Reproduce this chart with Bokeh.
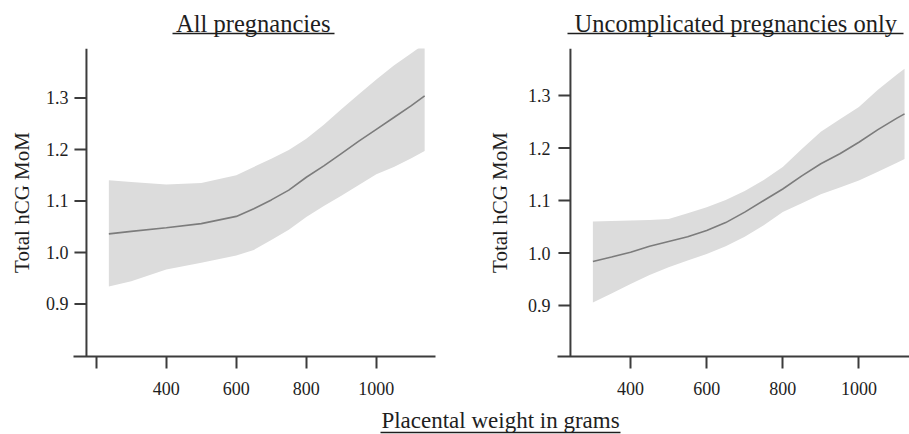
from bokeh.plotting import figure
from bokeh.models import Range1d, LinearAxis, FixedTicker, ColumnDataSource
from bokeh.layouts import column, row
from bokeh.embed import file_html
from bokeh.resources import INLINE
from bokeh.core.properties import value

FONT = "Liberation Serif"
TEXT = "#1e1e1e"
AXIS = "#3c3c3c"
BAND = "#dcdcdc"
LINE = "#7c7c7c"

# ---------------- data ----------------
titles = ["All pregnancies", "Uncomplicated pregnancies only"]
x_label = "Placental weight in grams"
y_label = "Total hCG MoM"

x_ticks_all = [200, 400, 600, 800, 1000]
x_tick_labels_all = ["", "400", "600", "800", "1000"]
x_ticks_unc = [400, 600, 800, 1000]
x_tick_labels_unc = ["400", "600", "800", "1000"]
y_ticks = [0.9, 1.0, 1.1, 1.2, 1.3]
y_tick_labels = ["0.9", "1.0", "1.1", "1.2", "1.3"]

# All pregnancies
weight_all = [236, 300, 400, 500, 600, 650, 700, 750, 800, 850, 900, 950, 1000, 1050, 1100, 1138]
fit_all = [1.036, 1.041, 1.048, 1.056, 1.070, 1.085, 1.102, 1.121, 1.146, 1.168, 1.192, 1.216, 1.239, 1.262, 1.285, 1.304]
upper_all = [1.140, 1.137, 1.132, 1.135, 1.150, 1.166, 1.182, 1.199, 1.221, 1.248, 1.278, 1.307, 1.336, 1.363, 1.387, 1.405]
lower_all = [0.934, 0.944, 0.967, 0.980, 0.994, 1.005, 1.024, 1.044, 1.069, 1.090, 1.110, 1.131, 1.152, 1.166, 1.183, 1.197]

# Uncomplicated pregnancies only
weight_unc = [301, 350, 400, 450, 500, 550, 600, 650, 700, 750, 800, 850, 900, 950, 1000, 1050, 1100, 1120]
fit_unc = [0.984, 0.9925, 1.0016, 1.013, 1.022, 1.031, 1.043, 1.058, 1.078, 1.100, 1.122, 1.147, 1.170, 1.189, 1.211, 1.235, 1.257, 1.265]
upper_unc = [1.060, 1.061, 1.062, 1.063, 1.065, 1.076, 1.087, 1.101, 1.118, 1.139, 1.164, 1.198, 1.231, 1.255, 1.278, 1.311, 1.340, 1.351]
lower_unc = [0.906, 0.923, 0.941, 0.958, 0.973, 0.986, 0.998, 1.013, 1.031, 1.053, 1.078, 1.095, 1.112, 1.125, 1.138, 1.155, 1.172, 1.179]

TICK_PX = 12


def style_axis(ax):
    ax.axis_line_color = AXIS
    ax.axis_line_width = 2
    ax.major_tick_line_color = AXIS
    ax.major_tick_line_width = 2
    ax.major_tick_out = TICK_PX
    ax.major_tick_in = 0
    ax.minor_tick_line_color = None
    ax.major_label_text_font = FONT
    ax.major_label_text_font_size = "18px"
    ax.major_label_text_color = TEXT
    ax.axis_label_text_font = FONT
    ax.axis_label_text_font_style = "normal"
    ax.axis_label_text_font_size = "21px"
    ax.axis_label_text_color = TEXT


def make_panel(x, fit, lo, hi, xticks, xlabels, xr, yr, y_axis_at, width, borders,
               ylab_standoff, ytick_standoff):
    p = figure(width=width, height=360, x_range=Range1d(*xr), y_range=Range1d(*yr),
               output_backend="svg", toolbar_location=None,
               x_axis_location=None, y_axis_location=None,
               min_border_left=borders[0], min_border_right=borders[1],
               min_border_top=borders[2], min_border_bottom=borders[3])
    p.grid.visible = False
    p.outline_line_color = None
    p.background_fill_color = "white"
    p.border_fill_color = "white"
    src = ColumnDataSource(dict(x=x, fit=fit, lo=lo, hi=hi))
    p.varea(x="x", y1="lo", y2="hi", source=src, fill_color=BAND, fill_alpha=1.0)
    p.line(x="x", y="fit", source=src, line_color=LINE, line_width=1.6)

    # x axis along the bottom of the frame
    xa = LinearAxis(ticker=FixedTicker(ticks=xticks),
                    major_label_overrides={t: l for t, l in zip(xticks, xlabels)})
    style_axis(xa)
    xa.major_label_standoff = 13
    p.add_layout(xa, "below")

    # y axis: labels from a real axis at the frame edge, rule + ticks drawn at y_axis_at
    ya = LinearAxis(ticker=FixedTicker(ticks=y_ticks),
                    major_label_overrides={t: l for t, l in zip(y_ticks, y_tick_labels)},
                    axis_label=y_label)
    style_axis(ya)
    ya.axis_line_color = None
    ya.major_tick_line_color = None
    ya.major_tick_out = 0
    ya.major_label_standoff = ytick_standoff
    ya.axis_label_standoff = ylab_standoff
    p.add_layout(ya, "left")

    frame_w = width - borders[0] - borders[1]
    tick_len = TICK_PX * (xr[1] - xr[0]) / frame_w
    p.segment(x0=[y_axis_at], y0=[yr[0]], x1=[y_axis_at], y1=[yr[1]],
              line_color=AXIS, line_width=2)
    p.segment(x0=[y_axis_at - tick_len] * len(y_ticks), y0=y_ticks,
              x1=[y_axis_at] * len(y_ticks), y1=y_ticks,
              line_color=AXIS, line_width=2)
    return p


p1 = make_panel(weight_all, fit_all, lower_all, upper_all, x_ticks_all, x_tick_labels_all,
                (135, 1169), (0.798, 1.396), 172, 450, (73, 15, 6, 42), 9, 5)
p2 = make_panel(weight_unc, fit_unc, lower_unc, upper_unc, x_ticks_unc, x_tick_labels_unc,
                (208, 1133), (0.803, 1.3895), 242, 459, (107, 0, 8, 44), 13, 7)


def text_strip(height, xs, ys, texts, size, ul_x0, ul_x1, ul_y):
    f = figure(width=909, height=height, x_range=Range1d(0, 909), y_range=Range1d(height, 0),
               output_backend="svg", toolbar_location=None,
               x_axis_location=None, y_axis_location=None,
               min_border_left=0, min_border_right=0, min_border_top=0, min_border_bottom=0)
    f.grid.visible = False
    f.outline_line_color = None
    f.text(x=xs, y=ys, text=texts, text_font=value(FONT), text_font_size=size,
           text_align="center", text_baseline="top", text_color=TEXT)
    f.segment(x0=ul_x0, y0=[ul_y] * len(xs), x1=ul_x1, y1=[ul_y] * len(xs),
              line_color=TEXT, line_width=1.3)
    return f


header = text_strip(40, [252.8, 735.3], [9, 9], titles, "24.5px", [172, 567], [334, 903], 33)
footer = text_strip(34, [500], [7], [x_label], "23px", [380], [620], 32)

layout = column(header, row(p1, p2), footer)

with open("out.html", "w") as fh:
    fh.write(file_html(layout, INLINE))
